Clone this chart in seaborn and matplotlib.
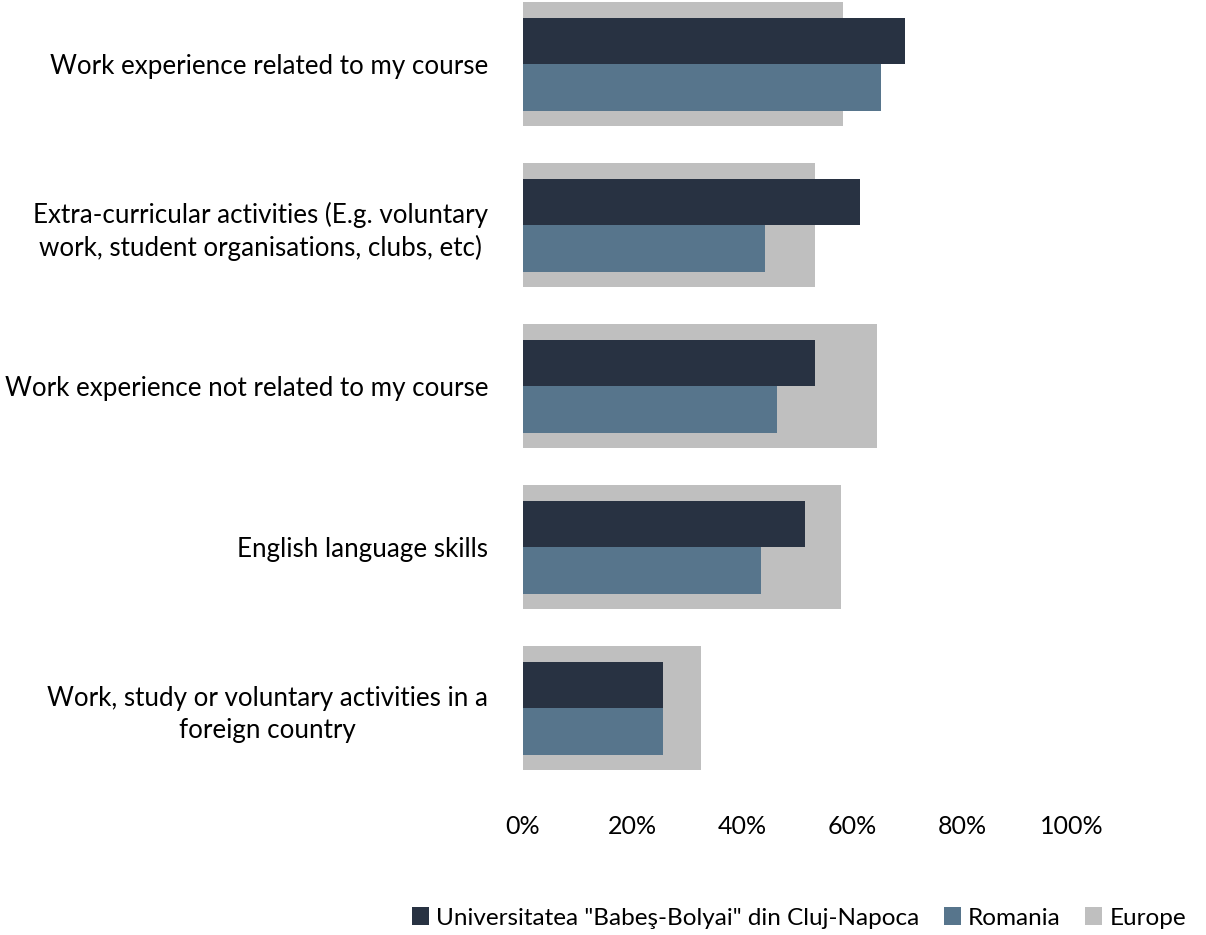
import matplotlib
matplotlib.use("Agg")
import matplotlib.pyplot as plt
import matplotlib.patches as mpatches
import seaborn as sns
import pandas as pd

categories = [
    "Work experience related to my course",
    "Extra-curricular activities (E.g. voluntary\nwork, student organisations, clubs, etc)",
    "Work experience not related to my course",
    "English language skills",
    "Work, study or voluntary activities in a\nforeign country",
]
cluj = [69.6, 61.3, 53.2, 51.4, 25.5]
romania = [65.3, 44.1, 46.3, 43.4, 25.5]
europe = [58.3, 53.2, 64.5, 58.0, 32.5]
series_names = ['Universitatea "Babeş-Bolyai" din Cluj-Napoca', "Romania", "Europe"]
xticks = [0, 20, 40, 60, 80, 100]

colors = {series_names[0]: "#283242", series_names[1]: "#57758C", series_names[2]: "#BFBFBF"}

sns.set_theme(style="white")
plt.rcParams["font.family"] = ["Lato", "DejaVu Sans"]
plt.rcParams["text.color"] = "#000000"

fig = plt.figure(figsize=(12.06, 9.35), dpi=100)
ax = fig.add_axes([523 / 1206, 1 - 789 / 935, 549 / 1206, 789 / 935])

df_eu = pd.DataFrame({"category": categories, "value": europe})
sns.barplot(data=df_eu, y="category", x="value", order=categories,
            color=colors[series_names[2]], width=0.77, saturation=1,
            linewidth=0, ax=ax)

df_in = pd.DataFrame({
    "category": categories * 2,
    "value": cluj + romania,
    "series": [series_names[0]] * len(categories) + [series_names[1]] * len(categories),
})
sns.barplot(data=df_in, y="category", x="value", hue="series", order=categories,
            hue_order=series_names[:2], palette=colors, width=0.58,
            saturation=1, linewidth=0, legend=False, ax=ax)

ax.set_xlim(0, 100)
ax.set_ylim(4.5, -0.4)
ax.set_xticks(xticks)
ax.set_xticklabels([f"{t}%" for t in xticks], fontsize=18, color="#000000")
ax.tick_params(axis="x", length=0, pad=19)
ax.tick_params(axis="y", length=0, pad=25)
for lbl in ax.get_yticklabels():
    lbl.set_fontsize(18.7)
    lbl.set_multialignment("center")
    lbl.set_linespacing(1.35)
    lbl.set_color("#000000")
ax.set_xlabel("")
ax.set_ylabel("")
for s in ax.spines.values():
    s.set_visible(False)

handles = [mpatches.Patch(facecolor=colors[n], edgecolor="none", label=n) for n in series_names]
leg = fig.legend(handles=handles, loc="center", bbox_to_anchor=(799 / 1206, 1 - 918 / 935),
                 ncol=3, frameon=False, fontsize=17.5, handlelength=0.7, handleheight=0.7,
                 handletextpad=0.3, columnspacing=1.0)
for t in leg.get_texts():
    t.set_color("#000000")

fig.savefig("out.png", dpi=100)
